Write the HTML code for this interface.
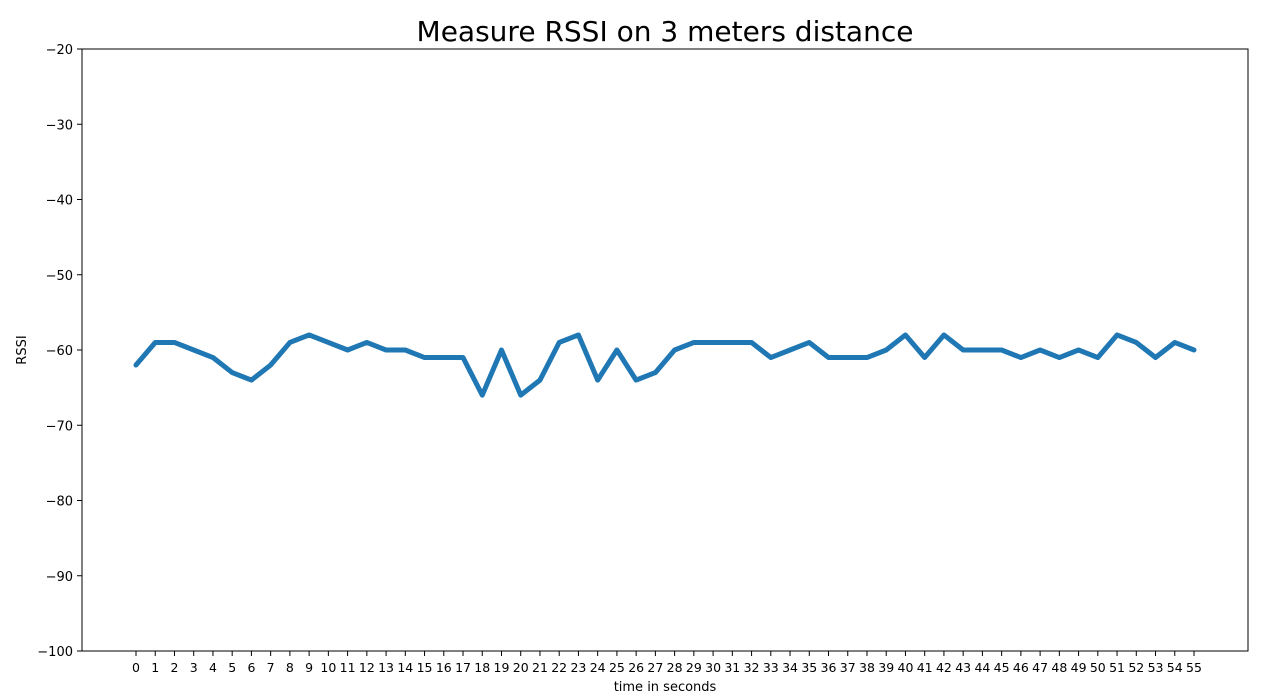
<!DOCTYPE html>
<html><head><meta charset="utf-8"><style>
body{margin:0;background:#fff;width:1271px;height:699px;overflow:hidden}
svg{display:block;font-family:"DejaVu Sans","Liberation Sans",sans-serif}
</style></head><body>
<svg id="chart" width="1271" height="699" viewBox="0 0 1271 699">
<text x="665" y="41" text-anchor="middle" font-size="28">Measure RSSI on 3 meters distance</text>
<rect x="82" y="49" width="1166" height="602" fill="none" stroke="#000" stroke-width="1"/>
<g id="yticks"></g>
<g id="xticks"></g>
<text x="665" y="691" text-anchor="middle" font-size="13">time in seconds</text>
<text transform="translate(26,350) rotate(-90)" text-anchor="middle" font-size="13">RSSI</text>
<polyline id="line" fill="none" stroke="#1f77b4" stroke-width="5" stroke-linejoin="round" stroke-linecap="round"/>
</svg>
<script>
const times = Array.from({length:56},(_,i)=>i);
const rssi = [-62,-59,-59,-60,-61,-63,-64,-62,-59,-58,-59,-60,-59,-60,-60,-61,-61,-61,-66,-60,-66,-64,-59,-58,-64,-60,-64,-63,-60,-59,-59,-59,-59,-61,-60,-59,-61,-61,-61,-60,-58,-61,-58,-60,-60,-60,-61,-60,-61,-60,-61,-58,-59,-61,-59,-60];
const yTicks = [-20,-30,-40,-50,-60,-70,-80,-90,-100];
const NS="http://www.w3.org/2000/svg";
const x = v => 136 + v*(1194-136)/55;
const y = v => 49 + (-20 - v)*(651-49)/80;
const yg=document.getElementById('yticks'), xg=document.getElementById('xticks');
function mk(tag,attrs,parent){const e=document.createElementNS(NS,tag);for(const k in attrs)e.setAttribute(k,attrs[k]);parent.appendChild(e);return e;}
yTicks.forEach(t=>{
  const l=mk('line',{x1:77,x2:82,y1:y(t),y2:y(t),stroke:'#000'},yg);
  
  
  const tx=mk('text',{x:73,y:y(t)+5,'text-anchor':'end','font-size':13},yg);
  
  
  tx.textContent=String(t).replace('-','\u2212');
});
times.forEach(t=>{
  const l=mk('line',{x1:x(t),x2:x(t),y1:651,y2:656,stroke:'#000'},xg);
  
  
  const tx=mk('text',{x:x(t),y:672,'text-anchor':'middle','font-size':12.5},xg);
  
  
  tx.textContent=t;
});
document.getElementById('line').setAttribute('points',rssi.map((v,i)=>x(times[i])+','+y(v)).join(' '));
</script>
</body></html>
